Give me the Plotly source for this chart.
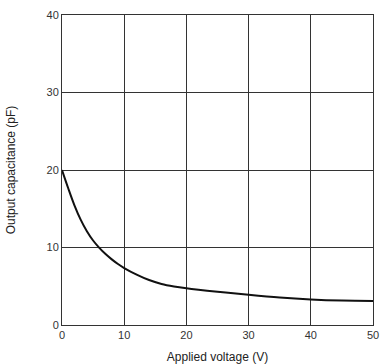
import plotly.graph_objects as go

# Output capacitance vs applied voltage
voltage = [0, 1, 2, 3, 4, 5, 6, 7, 8, 9, 10, 12, 14, 16, 18, 20, 25, 30, 35, 40, 45, 50]
capacitance = [20.0, 17.65, 15.45, 13.6, 12.1, 10.9, 9.95, 9.15, 8.47, 7.87, 7.35,
               6.5, 5.8, 5.3, 4.98, 4.75, 4.3, 3.9, 3.55, 3.3, 3.15, 3.1]

x_ticks = [0, 10, 20, 30, 40, 50]
y_ticks = [0, 10, 20, 30, 40]

fig = go.Figure()
fig.add_trace(go.Scatter(
    x=voltage, y=capacitance, mode="lines",
    line=dict(color="#111111", width=2, shape="spline", smoothing=1.0),
    showlegend=False, hoverinfo="skip",
))

axis_common = dict(
    showgrid=True, gridcolor="#333333", gridwidth=1,
    showline=True, linecolor="#333333", linewidth=1, mirror=True,
    zeroline=False, ticks="", ticklen=0, automargin=False,
    tickfont=dict(family="Liberation Sans, Arial, sans-serif", size=11, color="#333333"),
)

fig.update_layout(
    width=383, height=364,
    margin=dict(l=62, r=10, t=15, b=39),
    paper_bgcolor="white", plot_bgcolor="white",
    font=dict(family="Liberation Sans, Arial, sans-serif", size=11, color="#333333"),
    xaxis=dict(range=[0, 50], tickvals=x_ticks,
               title=dict(text="Applied voltage (V)", standoff=13,
                          font=dict(size=12, color="#222222")),
               **axis_common),
    yaxis=dict(range=[0, 40], tickvals=y_ticks,
               title=dict(text="Output capacitance (pF)", standoff=28,
                          font=dict(size=12, color="#222222")),
               **axis_common),
)

fig.write_html("out.html")
